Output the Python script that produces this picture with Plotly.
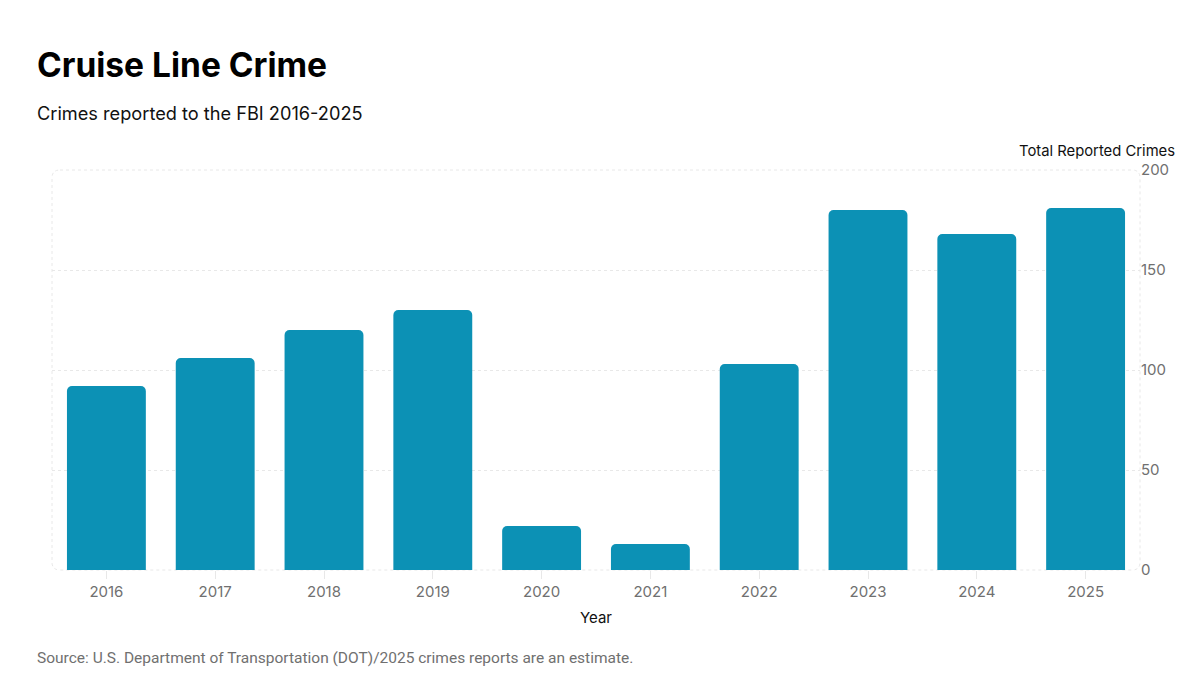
import plotly.graph_objects as go

years = ["2016", "2017", "2018", "2019", "2020", "2021", "2022", "2023", "2024", "2025"]
crimes = [92, 106, 120, 130, 22, 13, 103, 180, 168, 181]
y_ticks = [0, 50, 100, 150, 200]

BAR = "#0c91b5"
GRID = "#e8e8e8"

# plot area in figure pixels (page adds an 8px body margin)
L, R, T, B = 44, 68, 162, 116
W, H = 1200, 678
pw, ph = W - L - R, H - T - B
rx, ry = 8 / pw, 8 / ph
frame_path = (f"M {rx},1 L {1-rx},1 Q 1,1 1,{1-ry} L 1,{ry} Q 1,0 {1-rx},0 "
              f"L {rx},0 Q 0,0 0,{ry} L 0,{1-ry} Q 0,1 {rx},1 Z")

fig = go.Figure()
fig.add_trace(go.Bar(
    x=years, y=crimes, marker=dict(color=BAR, line=dict(width=0)),
    hovertemplate="%{x}: %{y}<extra></extra>",
))

fig.update_layout(
    width=W, height=H,
    margin=dict(l=L, r=R, t=T, b=B),
    paper_bgcolor="white", plot_bgcolor="white",
    font=dict(family="Inter", size=15, color="#707070"),
    bargap=0.275, barcornerradius=5,
    showlegend=False,
    xaxis=dict(
        type="category", showgrid=False, zeroline=False, showline=False,
        ticks="outside", ticklen=8, tickcolor=GRID, tickwidth=1,
        tickfont=dict(size=15, color="#707070"),
        title=dict(text="Year", font=dict(size=15, color="#111111"), standoff=12),
    ),
    yaxis=dict(
        side="right", range=[0, 200], tickvals=y_ticks,
        showgrid=True, gridcolor=GRID, griddash="3px,3px", gridwidth=1,
        zeroline=False, showline=False, ticks="",
        tickfont=dict(size=15, color="#707070"),
    ),
    shapes=[dict(type="path", xref="paper", yref="paper", path=frame_path,
                 line=dict(color=GRID, width=1, dash="3px,3px"), layer="below")],
    annotations=[
        dict(text="<b>Cruise Line Crime</b>", xref="paper", yref="paper",
             x=-17 / pw, y=1.0, xanchor="left", yanchor="middle", showarrow=False,
             font=dict(size=33.5, color="#000000", family="Inter"),
             yshift=105),
        dict(text="Crimes reported to the FBI 2016-2025", xref="paper", yref="paper",
             x=-17 / pw, y=1.0, xanchor="left", yanchor="middle", showarrow=False,
             font=dict(size=18.2, color="#111111", family="Inter"), yshift=57),
        dict(text="Total Reported Crimes", xref="paper", yref="paper",
             x=1.0, y=1.0, xanchor="right", yanchor="middle", showarrow=False,
             font=dict(size=14.8, color="#111111", family="Inter"), xshift=37, yshift=19),
        dict(text="Source: U.S. Department of Transportation (DOT)/2025 crimes reports are an estimate.",
             xref="paper", yref="paper", x=-17 / pw, y=0, xanchor="left", yanchor="middle",
             showarrow=False, font=dict(size=15.5, color="#707070", family="Roboto"),
             yshift=-88),
    ],
)

fig.write_html("out.html")
